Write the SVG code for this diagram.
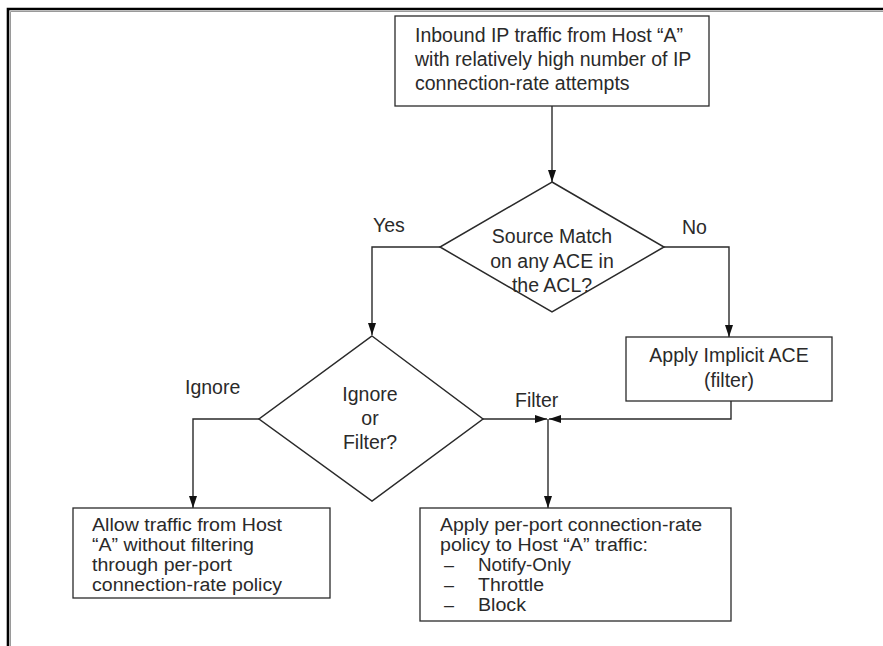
<svg xmlns="http://www.w3.org/2000/svg" width="883" height="646" viewBox="0 0 883 646">
  <style>
    .box { fill: #fff; stroke: #2a2a2a; stroke-width: 1.3; }
    .dia { fill: #fff; stroke: #2a2a2a; stroke-width: 1.5; }
    .wire { fill: none; stroke: #2a2a2a; stroke-width: 1.4; }
    text { font-family: "Liberation Sans", Arial, sans-serif; font-size: 19.5px; fill: #2a2a2a; }
    .tight { font-size: 18px; }
    .c { text-anchor: middle; }
  </style>
  <defs>
    <marker id="arrow" viewBox="0 0 12 8" refX="12" refY="4" markerWidth="12" markerHeight="8" markerUnits="userSpaceOnUse" orient="auto">
      <path d="M0,0 L12,4 L0,8 Z" fill="#111"/>
    </marker>
  </defs>

  <rect width="883" height="646" fill="#fff"/>

  <!-- page frame -->
  <g id="frame">
    <path d="M8,646 V9 H883" fill="none" stroke="#000" stroke-width="2.6"/>
    <path d="M10.5,646 V11.5 H883" fill="none" stroke="#9a9a9a" stroke-width="1"/>
  </g>

  <!-- connectors -->
  <g id="connectors">
    <path class="wire" d="M552,106 V182" marker-end="url(#arrow)"/>
    <path class="wire" d="M440,247 H372 V335" marker-end="url(#arrow)"/>
    <path class="wire" d="M664,247 H729 V337" marker-end="url(#arrow)"/>
    <path class="wire" d="M259,419 H193 V508" marker-end="url(#arrow)"/>
    <path class="wire" d="M483,419 H547" marker-end="url(#arrow)"/>
    <path class="wire" d="M731,401 V419 H549" marker-end="url(#arrow)"/>
    <path class="wire" d="M548,419 V508" marker-end="url(#arrow)"/>
  </g>

  <!-- edge labels -->
  <g id="labels">
    <text x="373" y="232">Yes</text>
    <text x="682" y="234">No</text>
    <text x="185" y="394">Ignore</text>
    <text x="515" y="407">Filter</text>
  </g>

  <g id="start">
    <rect class="box" x="395" y="16" width="314" height="90"/>
    <text x="415" y="42">Inbound IP traffic from Host “A”</text>
    <text x="415" y="66">with relatively high number of IP</text>
    <text x="415" y="90">connection-rate attempts</text>
  </g>

  <g id="source-match">
    <polygon class="dia" points="552,182 664,247 552,312 440,247"/>
    <text class="c" x="552" y="243">Source Match</text>
    <text class="c" x="552" y="268">on any ACE in</text>
    <text class="c" x="552" y="292">the ACL?</text>
  </g>

  <g id="implicit-ace">
    <rect class="box" x="626" y="337" width="206" height="64"/>
    <text class="c" x="729" y="362">Apply Implicit ACE</text>
    <text class="c" x="729" y="387">(filter)</text>
  </g>

  <g id="ignore-or-filter">
    <polygon class="dia" points="372,336 483,419 372,501 259,419"/>
    <text class="c" x="370" y="401">Ignore</text>
    <text class="c" x="370" y="425">or</text>
    <text class="c" x="370" y="449">Filter?</text>
  </g>

  <g id="allow">
    <rect class="box" x="73" y="508" width="257" height="90"/>
    <text class="tight" x="92" y="531" textLength="190" lengthAdjust="spacingAndGlyphs">Allow traffic from Host</text>
    <text class="tight" x="92" y="551" textLength="162" lengthAdjust="spacingAndGlyphs">“A” without filtering</text>
    <text class="tight" x="92" y="571" textLength="140" lengthAdjust="spacingAndGlyphs">through per-port</text>
    <text class="tight" x="92" y="591" textLength="190" lengthAdjust="spacingAndGlyphs">connection-rate policy</text>
  </g>

  <g id="apply-policy">
    <rect class="box" x="420" y="508" width="311" height="113"/>
    <text class="tight" x="440" y="531" textLength="262" lengthAdjust="spacingAndGlyphs">Apply per-port connection-rate</text>
    <text class="tight" x="440" y="551" textLength="208" lengthAdjust="spacingAndGlyphs">policy to Host “A” traffic:</text>
    <text class="tight" x="444" y="571">–</text>
    <text class="tight" x="478" y="571" textLength="93" lengthAdjust="spacingAndGlyphs">Notify-Only</text>
    <text class="tight" x="444" y="591">–</text>
    <text class="tight" x="478" y="591" textLength="66" lengthAdjust="spacingAndGlyphs">Throttle</text>
    <text class="tight" x="444" y="611">–</text>
    <text class="tight" x="478" y="611" textLength="48" lengthAdjust="spacingAndGlyphs">Block</text>
  </g>
</svg>
